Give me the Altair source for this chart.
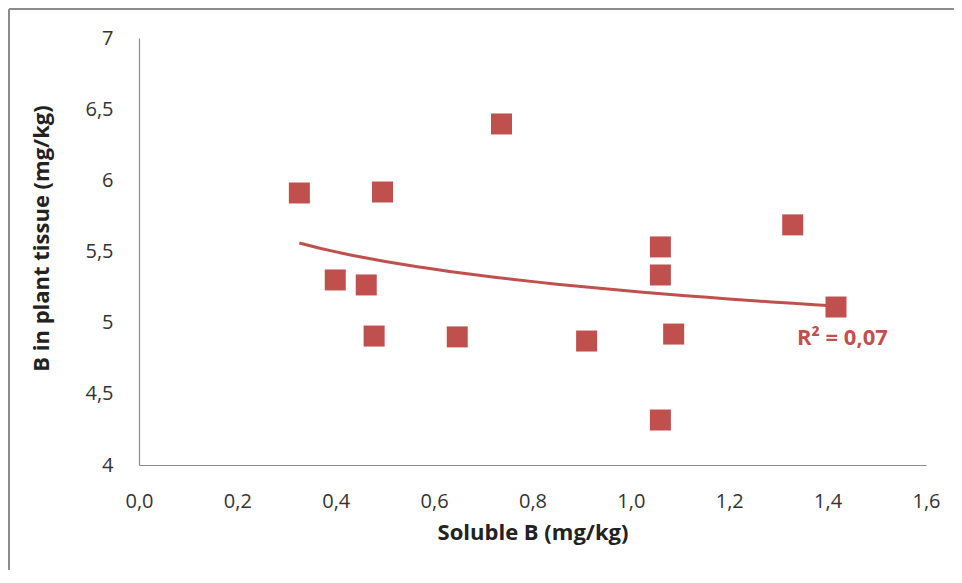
import altair as alt
import pandas as pd

soluble_b = [0.326, 0.399, 0.495, 0.462, 0.478, 0.647, 0.737, 0.910, 1.060, 1.060, 1.087, 1.060, 1.329, 1.417]
b_tissue = [5.911, 5.300, 5.918, 5.265, 4.906, 4.900, 6.396, 4.871, 5.532, 5.335, 4.920, 4.316, 5.687, 5.110]

label_x = [1.43]
label_y = [4.89]
label_text = ["R² = 0,07"]

RED = "#C0504D"
FONT = "Open Sans"

df = pd.DataFrame({"x": soluble_b, "y": b_tissue})
lab = pd.DataFrame({"x": label_x, "y": label_y, "t": label_text})

xscale = alt.Scale(domain=[0, 1.6], nice=False, zero=False)
yscale = alt.Scale(domain=[4, 7], nice=False, zero=False)

xaxis = alt.Axis(
    title="Soluble B (mg/kg)", values=[0, 0.2, 0.4, 0.6, 0.8, 1.0, 1.2, 1.4, 1.6],
    labelExpr="replace(format(datum.value, '.1f'), '.', ',')",
    grid=False, ticks=False, domainColor="#8c8c8c", domainWidth=1.2,
    labelFont=FONT, labelFontSize=20, labelColor="#333333", labelPadding=26,
    labelFlush=False,
    titleFont=FONT, titleFontSize=22, titleFontWeight="bold", titleColor="#222222",
    titlePadding=11,
)
yaxis = alt.Axis(
    title="B in plant tissue (mg/kg)", values=[4, 4.5, 5, 5.5, 6, 6.5, 7],
    labelExpr="replace(format(datum.value, '.1~f'), '.', ',')",
    grid=False, ticks=False, domainColor="#8c8c8c", domainWidth=1.2,
    labelFont=FONT, labelFontSize=20, labelColor="#333333", labelPadding=26,
    labelFlush=False,
    titleFont=FONT, titleFontSize=22, titleFontWeight="bold", titleColor="#222222",
    titlePadding=31, titleY=200,
)

base = alt.Chart(df)

points = base.mark_square(size=441, color=RED, opacity=1, cornerRadius=2).encode(
    x=alt.X("x:Q", scale=xscale, axis=xaxis),
    y=alt.Y("y:Q", scale=yscale, axis=yaxis),
)

trend = base.transform_regression("x", "y", method="log").mark_line(
    color=RED, strokeWidth=3
).encode(x=alt.X("x:Q", scale=xscale), y=alt.Y("y:Q", scale=yscale))

text = alt.Chart(lab).mark_text(
    color=RED, font=FONT, fontSize=22, fontWeight="bold", align="center", baseline="middle"
).encode(x=alt.X("x:Q", scale=xscale), y=alt.Y("y:Q", scale=yscale), text="t:N")

border_top = alt.Chart(df).mark_rule(color="#8c8c8c", strokeWidth=1.5).encode(
    x=alt.value(-130), x2=alt.value(820), y=alt.value(-29)
)
border_left = alt.Chart(df).mark_rule(color="#8c8c8c", strokeWidth=1.5).encode(
    x=alt.value(-130), y=alt.value(-29), y2=alt.value(540)
)

chart = alt.layer(trend, points, text, border_top, border_left).properties(
    width=787, height=427,
    autosize=alt.AutoSizeParams(type="none"),
    padding={"left": 131, "top": 30, "right": 28, "bottom": 105},
    background="white",
).configure_view(stroke=None)

chart.save("out.html", embed_options={"renderer": "svg", "actions": False})
